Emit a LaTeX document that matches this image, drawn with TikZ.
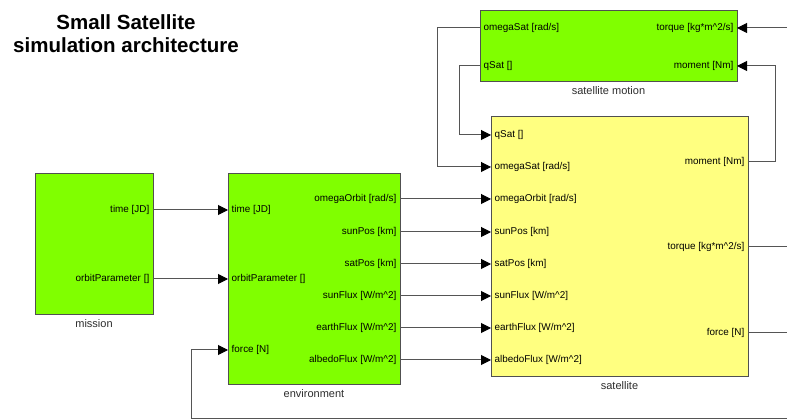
\documentclass[tikz,border=0pt]{standalone}
\usepackage{fontspec}
\setmainfont{Liberation Sans}
\usetikzlibrary{arrows.meta,calc}
\definecolor{boxgreen}{RGB}{128,255,0}
\definecolor{boxyellow}{RGB}{255,255,128}
\definecolor{edgegray}{RGB}{80,80,80}
\definecolor{wiregray}{RGB}{85,85,85}
\definecolor{lblgray}{RGB}{45,45,45}
\tikzset{
  blk/.style={draw=edgegray, line width=1pt, inner sep=0pt, outer sep=0pt, anchor=north west},
  gblk/.style={blk, fill=boxgreen},
  yblk/.style={blk, fill=boxyellow},
  ptxt/.style={inner sep=0pt, font=\fontsize{9.9}{11}\selectfont, text=black},
  inp/.style={ptxt, anchor=west, xshift=3.5pt},
  outp/.style={ptxt, anchor=east, xshift=-3.5pt},
  lbl/.style={inner sep=0pt, font=\fontsize{11}{13}\selectfont, text=lblgray},
  wire/.style={draw=wiregray, line width=1pt},
  arr/.style={wire, -{Triangle[length=10pt,width=10pt,color=black,fill=black]}},
}
\begin{document}
\begin{tikzpicture}[x=1pt,y=-1pt]
\fill[white] (0,0) rectangle (787,419);
\useasboundingbox (0,0) rectangle (787,419);

% title
\node[align=center, inner sep=0pt, font=\fontsize{20.5}{23}\bfseries\selectfont] (title) at (126,34) {Small Satellite\\simulation architecture};

% blocks
\node[gblk, minimum width=118pt, minimum height=141pt] (mis) at (35,174) {};
\node[gblk, minimum width=172pt, minimum height=211pt] (env) at (228,174) {};
\node[gblk, minimum width=257pt, minimum height=71pt] (sm) at (480,11) {};
\node[yblk, minimum width=257pt, minimum height=260pt] (sat) at (491,117) {};

% block labels
\node[lbl] (mis-l) at ([yshift=-9pt]mis.south) {mission};
\node[lbl] (env-l) at ([yshift=-9pt]env.south) {environment};
\node[lbl] (sm-l) at ([yshift=-9pt]sm.south) {satellite motion};
\node[lbl] (sat-l) at ([yshift=-9pt]sat.south) {satellite};

% mission ports
\coordinate (mis-time) at (mis.east |- 0,210);
\coordinate (mis-orb) at (mis.east |- 0,279);
\node[outp] (t-mis-time) at (mis-time) {time [JD]};
\node[outp] (t-mis-orb) at (mis-orb) {orbitParameter []};

% environment ports
\coordinate (env-time) at (env.west |- 0,210);
\coordinate (env-orb) at (env.west |- 0,279);
\coordinate (env-force) at (env.west |- 0,350);
\node[inp] (t-env-time) at (env-time) {time [JD]};
\node[inp] (t-env-orb) at (env-orb) {orbitParameter []};
\node[inp] (t-env-force) at (env-force) {force [N]};
\coordinate (env-oo) at (env.east |- 0,199);
\coordinate (env-sp) at (env.east |- 0,232);
\coordinate (env-sa) at (env.east |- 0,264);
\coordinate (env-sf) at (env.east |- 0,296);
\coordinate (env-ef) at (env.east |- 0,328);
\coordinate (env-af) at (env.east |- 0,360);
\node[outp] (t-env-oo) at (env-oo) {omegaOrbit [rad/s]};
\node[outp] (t-env-sp) at (env-sp) {sunPos [km]};
\node[outp] (t-env-sa) at (env-sa) {satPos [km]};
\node[outp] (t-env-sf) at (env-sf) {sunFlux [W/m\^{}2]};
\node[outp] (t-env-ef) at (env-ef) {earthFlux [W/m\^{}2]};
\node[outp] (t-env-af) at (env-af) {albedoFlux [W/m\^{}2]};

% satellite motion ports
\coordinate (sm-omega) at (sm.west |- 0,28);
\coordinate (sm-q) at (sm.west |- 0,66);
\coordinate (sm-torque) at (sm.east |- 0,28);
\coordinate (sm-moment) at (sm.east |- 0,66);
\node[inp] (t-sm-omega) at (sm-omega) {omegaSat [rad/s]};
\node[inp] (t-sm-q) at (sm-q) {qSat []};
\node[outp] (t-sm-torque) at (sm-torque) {torque [kg*m\^{}2/s]};
\node[outp] (t-sm-moment) at (sm-moment) {moment [Nm]};

% satellite ports
\coordinate (sat-q) at (sat.west |- 0,135);
\coordinate (sat-omega) at (sat.west |- 0,167);
\coordinate (sat-oo) at (sat.west |- 0,199);
\coordinate (sat-sp) at (sat.west |- 0,232);
\coordinate (sat-sa) at (sat.west |- 0,264);
\coordinate (sat-sf) at (sat.west |- 0,296);
\coordinate (sat-ef) at (sat.west |- 0,328);
\coordinate (sat-af) at (sat.west |- 0,360);
\node[inp] (t-sat-q) at (sat-q) {qSat []};
\node[inp] (t-sat-omega) at (sat-omega) {omegaSat [rad/s]};
\node[inp] (t-sat-oo) at (sat-oo) {omegaOrbit [rad/s]};
\node[inp] (t-sat-sp) at (sat-sp) {sunPos [km]};
\node[inp] (t-sat-sa) at (sat-sa) {satPos [km]};
\node[inp] (t-sat-sf) at (sat-sf) {sunFlux [W/m\^{}2]};
\node[inp] (t-sat-ef) at (sat-ef) {earthFlux [W/m\^{}2]};
\node[inp] (t-sat-af) at (sat-af) {albedoFlux [W/m\^{}2]};
\coordinate (sat-moment) at (sat.east |- 0,162);
\coordinate (sat-torque) at (sat.east |- 0,247);
\coordinate (sat-force) at (sat.east |- 0,333);
\node[outp] (t-sat-moment) at (sat-moment) {moment [Nm]};
\node[outp] (t-sat-torque) at (sat-torque) {torque [kg*m\^{}2/s]};
\node[outp] (t-sat-force) at (sat-force) {force [N]};

% off-picture ends
\coordinate (edge-torque-in) at (792,28);
\coordinate (edge-torque-out) at (792,247);
\coordinate (edge-force-out) at (792,333);
\coordinate (edge-force-back) at (792,418);
\coordinate (force-corner) at (191,418);

% connectors
\draw[arr] (mis-time) -- (env-time);
\draw[arr] (mis-orb) -- (env-orb);
\draw[arr] (env-oo) -- (sat-oo);
\draw[arr] (env-sp) -- (sat-sp);
\draw[arr] (env-sa) -- (sat-sa);
\draw[arr] (env-sf) -- (sat-sf);
\draw[arr] (env-ef) -- (sat-ef);
\draw[arr] (env-af) -- (sat-af);
\draw[arr] (sm-omega) -- ++(-43,0) |- (sat-omega);
\draw[arr] (sm-q) -- ++(-21,0) |- (sat-q);
\draw[arr] (sat-moment) -- ++(27,0) |- (sm-moment);
\draw[arr] (edge-torque-in) -- (sm-torque);
\draw[wire] (sat-torque) -- (edge-torque-out);
\draw[wire] (sat-force) -- (edge-force-out);
\draw[arr] (edge-force-back) -- (force-corner) |- (env-force);
\end{tikzpicture}
\end{document}
